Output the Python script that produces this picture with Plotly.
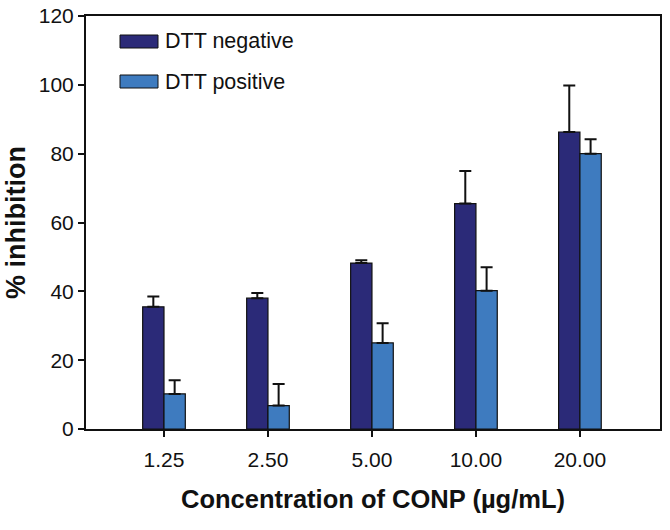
import plotly.graph_objects as go

categories = ["1.25", "2.50", "5.00", "10.00", "20.00"]
dtt_negative = [35.5, 38.0, 48.2, 65.5, 86.3]
dtt_negative_err = [3.0, 1.5, 0.8, 9.5, 13.5]
dtt_positive = [10.2, 6.8, 25.0, 40.2, 80.0]
dtt_positive_err = [4.0, 6.3, 5.7, 6.8, 4.2]
series_names = ["DTT negative", "DTT positive"]
series_colors = ["#2b2a78", "#3e7bbf"]

FONT = "Liberation Sans, Arial, sans-serif"

fig = go.Figure()
for name, vals, errs, col in zip(series_names, [dtt_negative, dtt_positive],
                                 [dtt_negative_err, dtt_positive_err], series_colors):
    fig.add_trace(go.Bar(
        x=categories, y=vals, name=name, showlegend=False,
        marker=dict(color=col, line=dict(color="#111111", width=1.2)),
        error_y=dict(type="data", array=errs, arrayminus=[0] * len(errs),
                     symmetric=False, color="#111111", thickness=2, width=6),
    ))

# custom legend (wide rectangular swatches like the original)
L, B, W, H = 86, 429, 574, 413
def px(x): return (x - L) / W
def py(y): return (B - y) / H
legend_rows = [(35, 48), (75, 88)]
for (top, bot), name, col in zip(legend_rows, series_names, series_colors):
    fig.add_shape(type="rect", xref="paper", yref="paper",
                  x0=px(120), x1=px(158), y0=py(bot), y1=py(top),
                  fillcolor=col, line=dict(color="#111111", width=1))
    fig.add_annotation(xref="paper", yref="paper", x=px(163), y=py((top + bot) / 2),
                       text=name, showarrow=False, xanchor="left", yanchor="middle",
                       font=dict(size=21.5, family=FONT, color="#111111"))

fig.update_layout(
    width=670, height=530,
    margin=dict(l=L, r=10, t=16, b=101),
    paper_bgcolor="white", plot_bgcolor="white",
    barmode="group", bargap=0.59, bargroupgap=0,
    font=dict(family=FONT, color="#111111"),
    showlegend=False,
    xaxis=dict(
        type="category", range=[-0.75, 4.77], automargin=False,
        showline=True, linecolor="#111111", linewidth=2, mirror=True,
        ticks="outside", ticklen=6, tickwidth=2, tickcolor="#111111",
        tickfont=dict(size=21), ticklabelstandoff=5,
        title=dict(text="Concentration of CONP (µg/mL)",
                   font=dict(size=25.5, family=FONT, weight="bold"),
                   standoff=20),
        showgrid=False, zeroline=False,
    ),
    yaxis=dict(
        range=[0, 120], tickvals=[0, 20, 40, 60, 80, 100, 120], automargin=False,
        showline=True, linecolor="#111111", linewidth=2, mirror=True,
        ticks="outside", ticklen=6, tickwidth=2, tickcolor="#111111",
        tickfont=dict(size=21),
        title=dict(text="% inhibition",
                   font=dict(size=27, family=FONT, weight="bold"),
                   standoff=5),
        showgrid=False, zeroline=False,
    ),
)

fig.write_html("out.html", config={"displayModeBar": False},
               post_script="document.body.style.margin='0px';document.body.style.padding='0px';")
